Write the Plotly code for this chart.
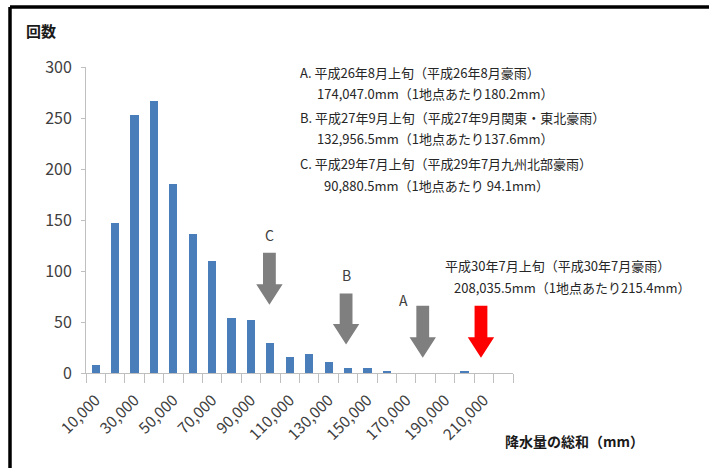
import plotly.graph_objects as go

# ---- data ----
bins = [10000, 20000, 30000, 40000, 50000, 60000, 70000, 80000, 90000, 100000,
        110000, 120000, 130000, 140000, 150000, 160000, 170000, 180000, 190000,
        200000, 210000, 220000]
counts = [8, 147, 253, 267, 185, 136, 110, 54, 52, 29,
          16, 19, 11, 5, 5, 1, 0, 0, 0, 2, 0, 0]
tick_vals = [10000, 30000, 50000, 70000, 90000, 110000, 130000, 150000, 170000, 190000, 210000]
tick_text = ["10,000", "30,000", "50,000", "70,000", "90,000", "110,000",
             "130,000", "150,000", "170,000", "190,000", "210,000"]

# arrows: label, x position, top value, tip value, colour
arrow_labels = ["C", "B", "A", ""]
arrow_x = [99500, 139000, 178500, 208500]
arrow_top = [118, 78, 66, 66]
arrow_tip = [67, 28, 15, 15]
arrow_colors = ["#7f7f7f", "#7f7f7f", "#7f7f7f", "#ff0000"]
label_x = [99500, 139000, 168500, None]
label_y = [135, 96, 72, None]

event_lines = [
    "A. 平成26年8月上旬（平成26年8月豪雨）",
    "174,047.0mm（1地点あたり180.2mm）",
    "B. 平成27年9月上旬（平成27年9月関東・東北豪雨）",
    "132,956.5mm（1地点あたり137.6mm）",
    "C. 平成29年7月上旬（平成29年7月九州北部豪雨）",
    "90,880.5mm（1地点あたり 94.1mm）",
]
red_lines = [
    "平成30年7月上旬（平成30年7月豪雨）",
    "208,035.5mm（1地点あたり215.4mm）",
]

FONT = "Noto Sans CJK JP"
W, H = 709, 468
L, R, T, B = 86, 196, 67, 95
pw, ph = W - L - R, H - T - B

def px2paper(px, py):
    return (px - L) / pw, (H - B - py) / ph

fig = go.Figure()
fig.add_trace(go.Bar(x=bins, y=counts, width=4200, marker_color="#4a7ebb",
                     marker_line_width=0))

shapes = []
annots = []
sw, hw, hl = 3300, 6800, 20
for lab, x, yt, yb, c, lx, ly in zip(arrow_labels, arrow_x, arrow_top, arrow_tip,
                                      arrow_colors, label_x, label_y):
    yh = yb + hl
    path = (f"M {x-sw},{yt} L {x+sw},{yt} L {x+sw},{yh} L {x+hw},{yh} "
            f"L {x},{yb} L {x-hw},{yh} L {x-sw},{yh} Z")
    shapes.append(dict(type="path", path=path, xref="x", yref="y",
                       fillcolor=c, line=dict(width=0), layer="above"))
    if lab:
        annots.append(dict(x=lx, y=ly, xref="x", yref="y", text=lab, showarrow=False,
                           font=dict(family=FONT, size=14, color="#404040")))

# event text block
line_pos = [(298, 72), (315, 93), (298, 117), (315, 138), (298, 163), (322, 185)]
for txt, (px, py) in zip(event_lines, line_pos):
    xp, yp = px2paper(px, py)
    annots.append(dict(x=xp, y=yp, xref="paper", yref="paper", text=txt,
                       showarrow=False, xanchor="left", yanchor="middle",
                       font=dict(family=FONT, size=13, color="#262626")))
for txt, (px, py) in zip(red_lines, [(443, 265), (452, 287)]):
    xp, yp = px2paper(px, py)
    annots.append(dict(x=xp, y=yp, xref="paper", yref="paper", text=txt,
                       showarrow=False, xanchor="left", yanchor="middle",
                       font=dict(family=FONT, size=13, color="#262626")))

# axis titles
xp, yp = px2paper(24, 31)
annots.append(dict(x=xp, y=yp, xref="paper", yref="paper", text="<b>回数</b>",
                   showarrow=False, xanchor="left", yanchor="middle",
                   font=dict(family=FONT, size=15, color="#1a1a1a")))
xp, yp = px2paper(503, 441)
annots.append(dict(x=xp, y=yp, xref="paper", yref="paper", text="<b>降水量の総和（mm）</b>",
                   showarrow=False, xanchor="left", yanchor="middle",
                   font=dict(family=FONT, size=14, color="#1a1a1a")))

# outer frame (top and left)
x0, y0 = px2paper(10, 7)
x1, _ = px2paper(712, 7)
_, y1 = px2paper(10, 472)
shapes.append(dict(type="line", xref="paper", yref="paper", x0=x0, y0=y0, x1=x1, y1=y0,
                   line=dict(color="black", width=3.5)))
shapes.append(dict(type="line", xref="paper", yref="paper", x0=x0, y0=y0, x1=x0, y1=y1,
                   line=dict(color="black", width=3.5)))

fig.update_layout(
    width=W, height=H,
    margin=dict(l=L, r=R, t=T, b=B, pad=0),
    paper_bgcolor="white", plot_bgcolor="white",
    showlegend=False,
    shapes=shapes, annotations=annots,
    bargap=0,
    xaxis=dict(range=[5000, 225000], tickmode="array", tickvals=tick_vals,
               ticktext=tick_text, tickangle=-45, ticks="", showline=True,
               linecolor="#bfbfbf", linewidth=1, showgrid=False, zeroline=False,
               tickfont=dict(family=FONT, size=15.5, color="#404040"),
               ticklabelstandoff=11,
               minor=dict(tick0=5000, dtick=10000, ticks="outside", ticklen=9,
                          tickcolor="#bfbfbf", tickwidth=1, showgrid=False)),
    yaxis=dict(range=[0, 300], tickvals=[0, 50, 100, 150, 200, 250, 300],
               ticks="outside", ticklen=4, tickcolor="#bfbfbf", showline=True,
               linecolor="#bfbfbf", linewidth=1, showgrid=False, zeroline=False,
               tickfont=dict(family=FONT, size=16, color="#404040"),
               ticklabelstandoff=6),
)

fig.write_html("out.html", config={"displayModeBar": False},
               post_script="document.body.style.margin='0';document.body.style.overflow='hidden';")
